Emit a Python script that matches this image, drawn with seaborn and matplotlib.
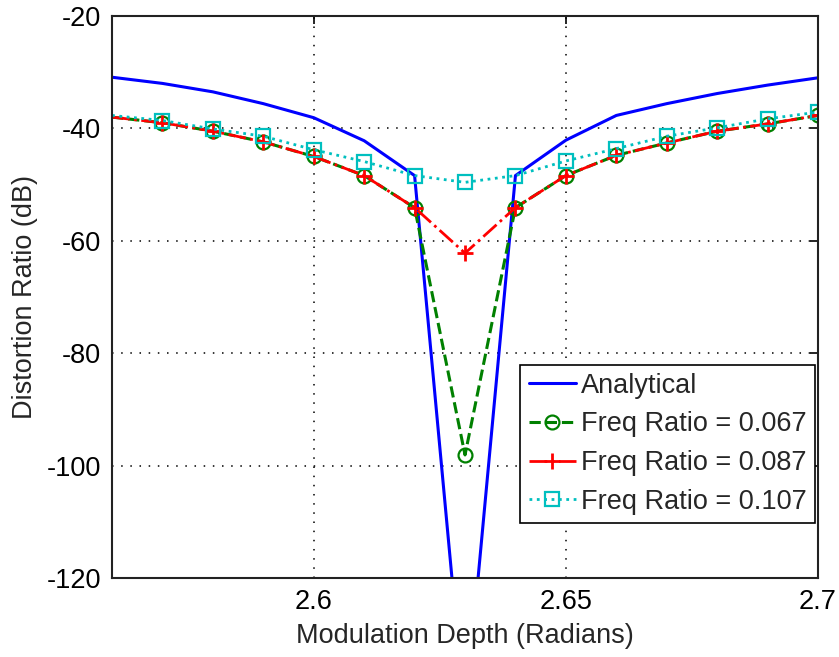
import numpy as np
import pandas as pd
import matplotlib
matplotlib.use("Agg")
import matplotlib.pyplot as plt
import seaborn as sns

# ---- data ----
depth = [2.56, 2.57, 2.58, 2.59, 2.60, 2.61, 2.62, 2.63,
         2.64, 2.65, 2.66, 2.67, 2.68, 2.69, 2.70]
analytical = [-30.9, -32.0, -33.5, -35.6, -38.1, -42.2, -48.4, -145.0,
              -48.4, -42.1, -37.7, -35.6, -33.8, -32.3, -31.0]
ratio_067 = [-38.0, -39.0, -40.5, -42.4, -45.0, -48.4, -54.1, -98.1,
             -54.1, -48.4, -44.8, -42.6, -40.5, -39.2, -37.7]
ratio_087 = [-38.0, -39.0, -40.5, -42.4, -45.0, -48.4, -54.1, -62.2,
             -54.1, -48.4, -44.8, -42.6, -40.5, -39.2, -37.7]
ratio_107 = [-37.7, -38.6, -40.1, -41.4, -43.8, -45.9, -48.4, -49.6,
             -48.4, -45.8, -43.6, -41.4, -39.9, -38.3, -37.1]

labels = ["Analytical", "Freq Ratio = 0.067", "Freq Ratio = 0.087", "Freq Ratio = 0.107"]
xticks = [2.6, 2.65, 2.7]
xticklabels = ["2.6", "2.65", "2.7"]
yticks = [-120, -100, -80, -60, -40, -20]

df = pd.DataFrame({"depth": depth, "a": analytical, "g": ratio_067,
                   "r": ratio_087, "c": ratio_107})

sns.set_style("white")
plt.rcParams["font.family"] = ["Liberation Sans", "DejaVu Sans"]
plt.rcParams["axes.unicode_minus"] = False
FS = 19.5

fig = plt.figure(figsize=(8.39, 6.57), dpi=100)
ax = fig.add_axes([0.1335, 0.1202, 0.975 - 0.1335, 0.9757 - 0.1202])

sns.lineplot(data=df, x="depth", y="a", ax=ax, color=(0, 0, 1), lw=2.2,
             linestyle="-", label=labels[0], sort=False)
sns.lineplot(data=df, x="depth", y="g", ax=ax, color=(0, 0.5, 0), lw=2.2,
             linestyle="--", marker="o", markersize=10, markerfacecolor="none",
             markeredgecolor=(0, 0.5, 0), markeredgewidth=1.6, markevery=slice(1, None),
             label=labels[1], sort=False)
sns.lineplot(data=df, x="depth", y="r", ax=ax, color=(1, 0, 0), lw=2.0,
             linestyle="-.", marker="+", markersize=11,
             markeredgecolor=(1, 0, 0), markeredgewidth=2.0, markevery=slice(1, None),
             label=labels[2], sort=False)
sns.lineplot(data=df, x="depth", y="c", ax=ax, color=(0, 0.75, 0.75), lw=2.0,
             linestyle=":", marker="s", markersize=10, markerfacecolor="none",
             markeredgecolor=(0, 0.75, 0.75), markeredgewidth=1.6, markevery=slice(1, None),
             label=labels[3], sort=False)

ax.set_xlim(2.56, 2.70)
ax.set_ylim(-120, -20)
ax.set_xticks(xticks)
ax.set_xticklabels(xticklabels)
ax.set_yticks(yticks)
ax.grid(True, color="black", linestyle=(0, (1, 5)), linewidth=1.1)
ax.tick_params(direction="in", length=6, width=1.2, top=True, right=True,
               labelsize=FS, pad=8, colors="black")
for s in ax.spines.values():
    s.set_color("#222222")
    s.set_linewidth(1.5)
ax.set_xlabel("Modulation Depth (Radians)", fontsize=FS, labelpad=6)
ax.set_ylabel("Distortion Ratio (dB)", fontsize=FS, labelpad=6)

leg = ax.legend(loc="lower right", bbox_to_anchor=(0.996, 0.098), fontsize=FS,
                frameon=True, fancybox=False, framealpha=1, edgecolor="black",
                handlelength=1.75, handletextpad=0.2, labelspacing=0.47,
                borderpad=0.3, borderaxespad=0)
leg.get_frame().set_linewidth(1.2)

fig.savefig("out.png", dpi=100)
